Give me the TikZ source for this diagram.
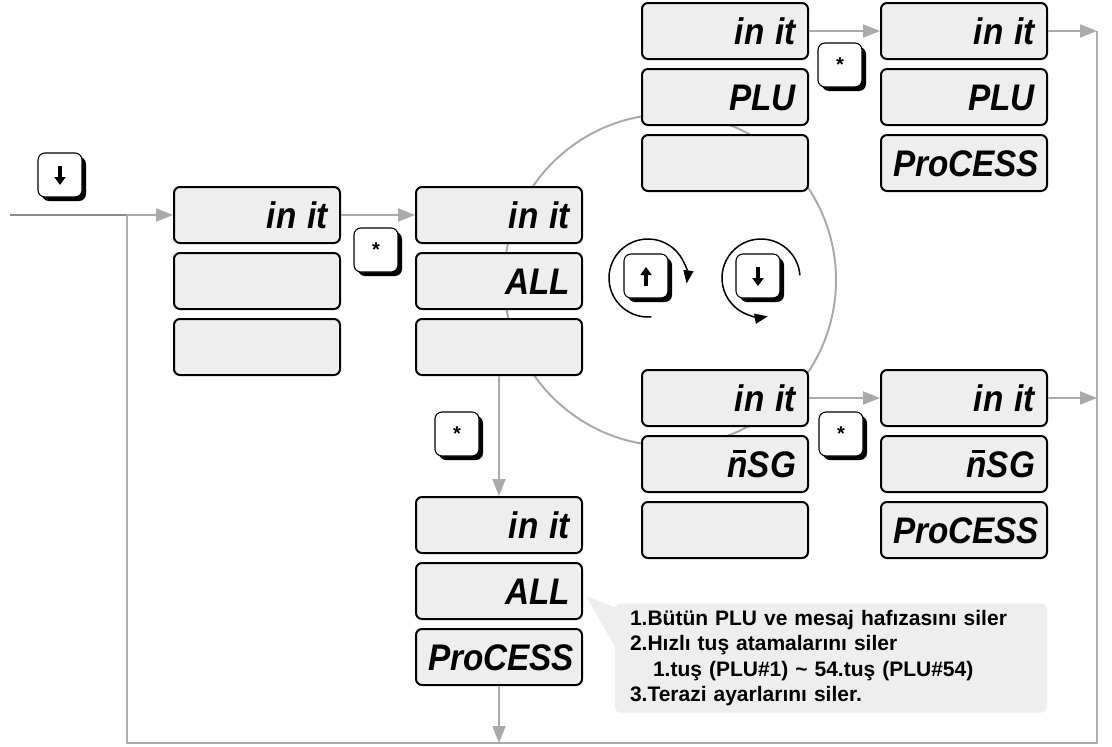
\documentclass[tikz,border=0pt]{standalone}
\usepackage{fontspec}
\usepackage{graphicx}
\setmainfont{Liberation Sans}
\usetikzlibrary{arrows.meta,shadows,calc}
\definecolor{lcdfill}{HTML}{EEEEEE}
\definecolor{conngray}{HTML}{AAAAAA}
\definecolor{darkconn}{HTML}{8C8C8C}
\definecolor{notefill}{HTML}{EEEEEE}
\newcommand\lcdtext[1]{\scalebox{0.9}[1]{\bfseries\itshape #1}}
\newcommand\nbar{\rlap{\kern6pt\rule[25pt]{15pt}{3pt}}n}
\newcommand\keystar{{\bfseries\fontsize{20}{20}\selectfont\raisebox{-5pt}{*}}}
\begin{document}
\begin{tikzpicture}[x=1pt,y=-1pt,
  lcd/.style={draw=black, line width=2pt, fill=lcdfill, rounded corners=6pt,
    minimum width=166pt, minimum height=56pt, inner xsep=12pt, inner ysep=0pt,
    text width=142pt, align=right, font=\fontsize{37}{37}\selectfont,
    text height=27pt, text depth=0pt},
  key/.style={draw=black, line width=1.1pt, fill=white, rounded corners=7pt,
    minimum size=44pt, inner sep=0pt,
    drop shadow={shadow xshift=4pt, shadow yshift=-4pt, fill=black, opacity=1}},
  keyglyph/.style={draw=black, line width=3.2pt, -{Triangle[length=8pt,width=11pt]}},
  conn/.style={draw=conngray, line width=2pt},
  arr/.style={conn, -{Triangle[length=17pt,width=13pt]}},
  rot/.style={draw=black, line width=1.5pt, -{Triangle[length=13pt,width=10pt]}},
  note/.style={fill=notefill, rounded corners=5pt, minimum width=432pt,
    minimum height=109pt, text width=402pt, inner xsep=15pt, align=left,
    font=\bfseries\fontsize{21}{25.5}\selectfont}
]
\useasboundingbox (0,0) rectangle (1112,747);

% big selection circle (behind the displays)
\coordinate (cc) at (670,280);
\draw[conn] (cc) circle[radius=166];

% displays
\node[lcd] (a1) at (257,215) {\lcdtext{in it}};
\node[lcd] (a2) at (257,281) {};
\node[lcd] (a3) at (257,347) {};

\node[lcd] (b1) at (499,215) {\lcdtext{in it}};
\node[lcd] (b2) at (499,281) {\lcdtext{ALL}};
\node[lcd] (b3) at (499,347) {};

\node[lcd] (e1) at (499,525) {\lcdtext{in it}};
\node[lcd] (e2) at (499,591) {\lcdtext{ALL}};
\node[lcd] (e3) at (499,657) {\lcdtext{ProCESS}};

\node[lcd] (p1) at (725,31) {\lcdtext{in it}};
\node[lcd] (p2) at (725,97) {\lcdtext{PLU}};
\node[lcd] (p3) at (725,163) {};

\node[lcd] (q1) at (964,31) {\lcdtext{in it}};
\node[lcd] (q2) at (964,97) {\lcdtext{PLU}};
\node[lcd] (q3) at (964,163) {\lcdtext{ProCESS}};

\node[lcd] (m1) at (725,398) {\lcdtext{in it}};
\node[lcd] (m2) at (725,464) {\lcdtext{\nbar SG}};
\node[lcd] (m3) at (725,530) {};

\node[lcd] (n1) at (964,398) {\lcdtext{in it}};
\node[lcd] (n2) at (964,464) {\lcdtext{\nbar SG}};
\node[lcd] (n3) at (964,530) {\lcdtext{ProCESS}};

% keys
\node[key] (k0) at (60,175) {};
\node[key] (s1) at (376,250) {\keystar};
\node[key] (s2) at (457,434) {\keystar};
\node[key] (s3) at (840,65) {\keystar};
\node[key] (s4) at (841,434) {\keystar};
\node[key] (ku) at (646,276) {};
\node[key] (kd) at (758,276) {};
\draw[keyglyph] ($(k0.center)+(0,-9)$) -- ($(k0.center)+(0,10)$);
\draw[keyglyph] ($(kd.center)+(0,-9)$) -- ($(kd.center)+(0,10)$);
\draw[keyglyph] ($(ku.center)+(0,10)$) -- ($(ku.center)+(0,-9)$);

% rotation arrows
\coordinate (cu) at (648,278);
\coordinate (cd) at (761,278);
\draw[rot] ([shift={(85:39)}]cu) arc[start angle=85, end angle=368, radius=39];
\draw[rot] ([shift={(-4:39)}]cd) arc[start angle=-4, end angle=-280, radius=39];

% connectors
\coordinate (in) at (10,215);
\coordinate (j) at (127,215);
\coordinate (bl) at (127,743);
\coordinate (br) at (1097,743);
\coordinate (tr) at (1097,31);
\draw[draw=darkconn, line width=2pt] (in) -- (j);
\draw[arr] (j) -- (a1.west);
\draw[arr] (a1.east) -- (b1.west);
\draw[arr] (b3.south) -- (e1.north);
\draw[arr] (p1.east) -- (q1.west);
\draw[arr] (m1.east) -- (n1.west);
\draw[conn] (j) -- (bl) -- (br) -- (tr);
\draw[arr] (q1.east) -- (q1.east -| tr);
\draw[arr] (n1.east) -- (n1.east -| tr);
\draw[arr] (e3.south) -- (e3.south |- bl);

% callout
\node[note] (nt) at (831,658) {1.Bütün PLU ve mesaj hafızasını siler\\
2.Hızlı tuş atamalarını siler\\
\hspace*{23pt}1.tuş (PLU\#1) \textasciitilde{} 54.tuş (PLU\#54)\\
3.Terazi ayarlarını siler.};
\coordinate (tip) at (586,596);
\fill[notefill] (tip) -- ($(nt.north west)+(0,4)$) -- ($(nt.north west)+(0,43)$) -- cycle;
\end{tikzpicture}
\end{document}
